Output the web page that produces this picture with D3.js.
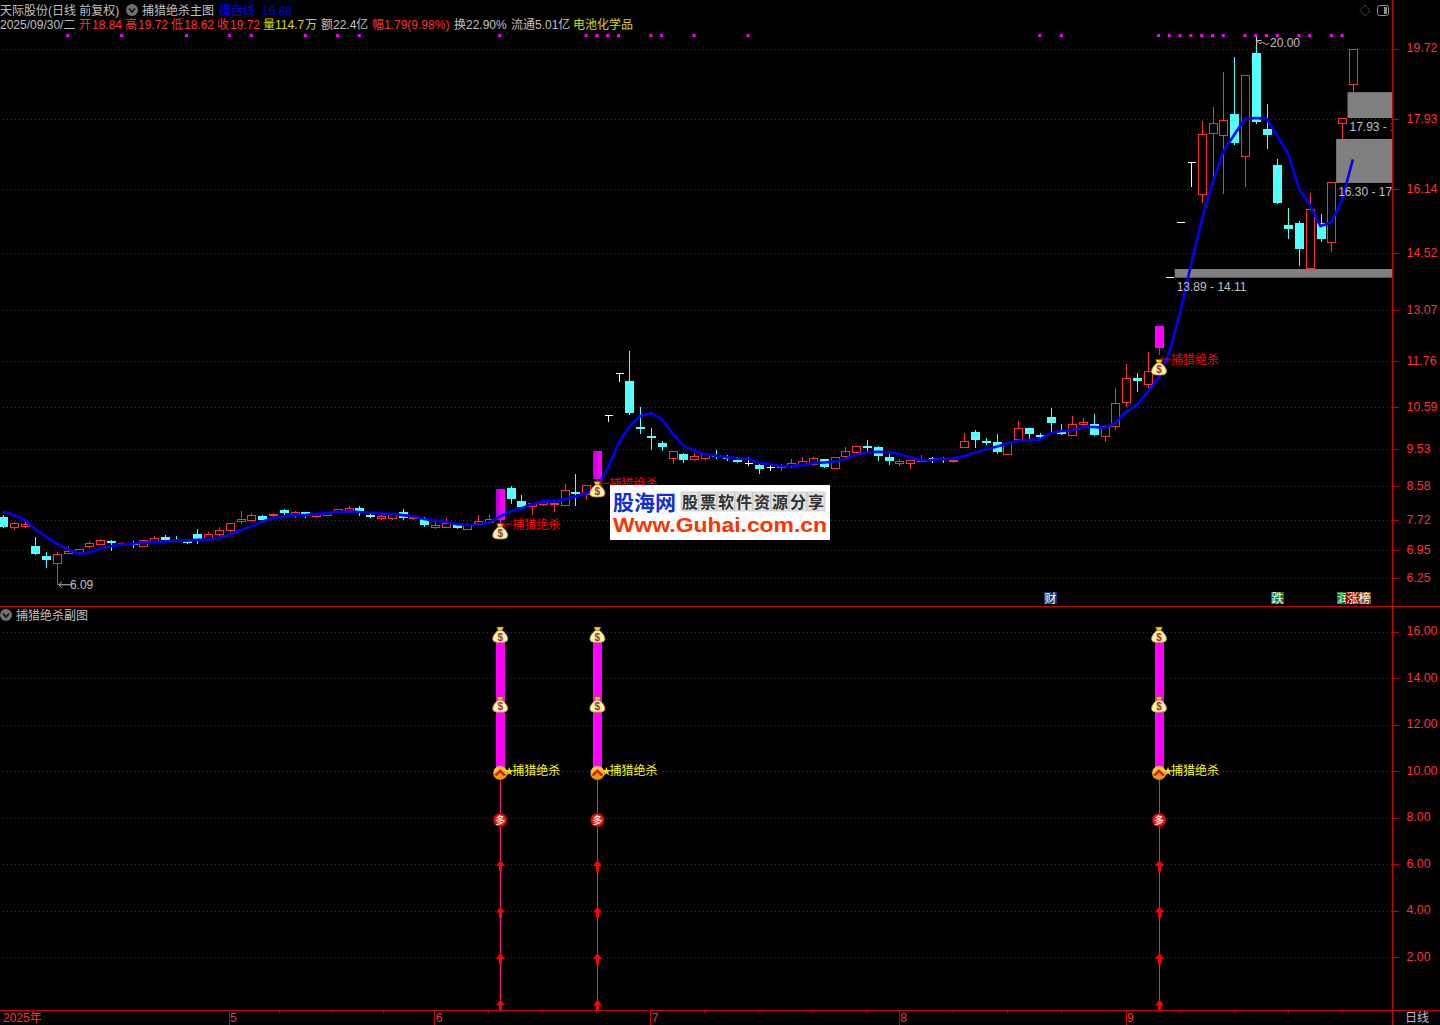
<!DOCTYPE html>
<html><head><meta charset="utf-8">
<script src="https://cdnjs.cloudflare.com/ajax/libs/d3/7.8.5/d3.min.js"></script>
<style>
html,body{margin:0;padding:0;background:#000;overflow:hidden}
svg{display:block}
text{font-family:"Liberation Sans","Noto Sans CJK SC",sans-serif;font-size:12px}
</style></head><body><svg id="c" width="1440" height="1025"></svg>
<script>
const opens=[7.80,7.53,7.56,7.07,6.81,6.61,6.90,6.90,7.05,7.13,
7.18,7.12,7.15,7.07,7.18,7.29,7.22,7.18,7.37,7.24,
7.38,7.45,7.68,7.73,7.83,7.86,7.98,7.88,7.93,7.81,
7.85,7.93,7.99,8.03,7.84,7.76,7.76,7.93,7.76,7.75,
7.54,7.56,7.62,7.51,7.66,7.67,7.73,8.53,8.21,8.10,
8.12,8.14,8.12,8.44,8.39,8.77,10.40,11.46,11.26,10.08,
9.87,9.68,9.29,9.40,9.28,9.29,9.39,9.34,9.25,9.18,
9.12,9.07,9.07,9.10,9.13,9.15,9.28,9.07,9.34,9.46,
9.61,9.57,9.32,9.18,9.16,9.25,9.29,9.30,9.21,9.59,
9.96,9.74,9.71,9.41,9.78,10.07,9.89,10.34,9.96,9.91,
10.18,10.17,9.87,10.10,10.71,11.34,11.19,12.10,13.91,15.31,
16.82,16.01,17.56,17.51,18.05,16.97,19.60,17.67,16.76,15.23,
15.28,14.12,15.27,14.79,17.82,18.84];
const closes=[7.55,7.64,7.62,6.87,6.72,6.85,6.94,6.98,7.13,7.22,
7.13,7.13,7.10,7.21,7.27,7.22,7.21,7.16,7.25,7.36,
7.47,7.64,7.74,7.85,7.74,7.88,7.90,7.93,7.86,7.87,
7.92,8.00,8.03,7.91,7.82,7.82,7.87,7.79,7.79,7.61,
7.60,7.65,7.52,7.61,7.70,7.74,8.51,8.26,8.06,8.17,
8.20,8.17,8.50,8.38,8.61,9.48,10.40,11.46,10.45,10.07,
9.86,9.59,9.47,9.26,9.36,9.40,9.34,9.32,9.21,9.18,
9.01,9.07,9.12,9.17,9.23,9.29,9.08,9.34,9.47,9.62,
9.60,9.34,9.21,9.22,9.24,9.26,9.29,9.28,9.24,9.73,
9.76,9.68,9.46,9.68,10.06,9.91,9.86,10.20,9.94,10.18,
10.22,9.89,10.12,10.69,11.33,11.26,11.51,12.66,13.91,15.31,
16.82,17.54,17.82,17.90,17.31,19.04,17.85,17.53,15.80,15.14,
14.62,15.63,14.86,16.32,17.94,19.72];
const highs=[7.85,7.68,7.68,7.29,6.91,6.90,7.07,7.00,7.19,7.24,
7.22,7.17,7.18,7.21,7.31,7.35,7.33,7.22,7.49,7.41,
7.55,7.64,7.95,7.90,7.85,7.91,8.01,7.95,7.94,7.90,
7.93,8.01,8.08,8.08,7.90,7.86,7.91,8.01,7.84,7.79,
7.68,7.78,7.66,7.66,7.85,7.85,8.51,8.59,8.36,8.17,
8.23,8.18,8.64,8.90,8.61,9.48,10.40,11.46,12.03,10.59,
10.06,9.74,9.47,9.44,9.42,9.40,9.50,9.37,9.32,9.32,
9.15,9.12,9.15,9.27,9.34,9.34,9.28,9.34,9.57,9.62,
9.76,9.61,9.40,9.27,9.24,9.38,9.33,9.33,9.27,9.94,
10.01,9.81,9.91,9.68,10.24,10.07,9.93,10.57,10.18,10.37,
10.31,10.42,10.13,11.08,11.69,11.47,12.00,12.66,13.91,15.31,
16.82,17.88,18.22,19.12,19.50,19.04,20.00,18.31,16.90,15.66,
15.33,16.04,15.51,16.32,17.94,19.72];
const lows=[7.55,7.50,7.55,6.87,6.54,6.09,6.88,6.88,7.03,7.12,
6.95,7.10,7.04,7.06,7.18,7.18,7.20,7.15,7.15,7.24,
7.33,7.45,7.66,7.72,7.73,7.81,7.89,7.81,7.81,7.79,
7.84,7.92,7.98,7.85,7.79,7.74,7.74,7.76,7.74,7.58,
7.53,7.55,7.51,7.50,7.64,7.65,7.65,8.17,8.06,7.88,
8.11,7.96,8.11,8.11,8.27,8.66,10.25,11.27,10.42,9.95,
9.54,9.51,9.18,9.21,9.25,9.28,9.30,9.24,9.19,9.12,
8.92,9.01,9.01,9.07,9.12,9.13,9.08,9.07,9.34,9.40,
9.49,9.24,9.15,9.13,9.05,9.25,9.20,9.20,9.20,9.59,
9.59,9.66,9.43,9.41,9.76,9.78,9.80,9.97,9.91,9.90,
10.12,9.89,9.74,10.04,10.63,11.01,10.99,11.95,13.91,15.31,
16.23,15.82,16.41,16.05,17.29,16.23,17.83,17.20,15.80,14.90,
14.21,14.12,14.83,14.57,17.45,18.62];
const maLine=[7.94,7.85,7.73,7.49,7.30,7.12,6.98,6.87,6.90,7.00,
7.06,7.10,7.12,7.16,7.17,7.18,7.20,7.20,7.22,7.23,
7.26,7.35,7.46,7.57,7.68,7.77,7.81,7.85,7.85,7.88,
7.90,7.93,7.94,7.93,7.91,7.89,7.88,7.85,7.82,7.75,
7.71,7.68,7.62,7.60,7.61,7.66,7.81,7.95,8.02,8.13,
8.20,8.20,8.25,8.32,8.39,8.57,9.04,9.68,10.10,10.37,
10.45,10.29,9.93,9.61,9.49,9.40,9.36,9.32,9.29,9.28,
9.18,9.15,9.10,9.10,9.12,9.17,9.19,9.21,9.28,9.39,
9.44,9.46,9.45,9.40,9.32,9.25,9.26,9.28,9.29,9.35,
9.44,9.52,9.59,9.67,9.74,9.76,9.77,9.94,9.99,10.00,
10.09,10.09,10.07,10.20,10.48,10.65,10.99,11.33,12.00,13.00,
14.21,15.36,16.29,17.10,17.52,17.93,17.95,17.93,17.50,17.05,
16.16,15.74,15.20,15.30,15.87,16.90];

const signalIdx=[46,55,107];
const mainBagY=[7.42,8.49,11.59];
const mainLabelY=[7.62,8.66,11.82];
const topDots=[6,11,17,21,23,28,31,33,46,54,55,56,57,60,61,64,69,96,98,107,108,109,110,111,112,113,115,116,117,118,120,121,123,124];
const mainTicks=[19.72,17.93,16.14,14.52,13.07,11.76,10.59,9.53,8.58,7.72,6.95,6.25];
const subTicks=[16,14,12,10,8,6,4,2];
const subBarTop=16, subBarBase=10, subBags=[16,13], subBadge=10, subDuo=8, subArrows=[6,4,2,0], subStemBase=0;
const zones=[{lo:13.89,hi:14.11,from:108.5,lbl:"13.89 - 14.11"},{lo:16.30,hi:17.42,from:123.45,lbl:"16.30 - 17"},{lo:17.95,hi:18.61,from:124.5,lbl:"17.93 - 1"}];
const monthLabels=["5","6","7","8","9"];
const monthIdx=[20.9,39.95,59.95,82.95,103.95];
const minorIdx=[25.65,30.45,35.25,45.05,50.05,55.05,65.05,70.05,75.05,80.05,88.05,93.05,98.05,109.05,114.05,119.05,124.05];

const RED="#ff3232",PURE="#ff0000",CYAN="#54ffff",GRAY="#c0c0c0",LINE="#d00000",GRID="#a00000",YEL="#d8d800";
const svg=d3.select("#c");
const defs=svg.append("defs");
const grad=defs.append("linearGradient").attr("id","mg");
grad.append("stop").attr("offset","0").attr("stop-color","#b000d8");
grad.append("stop").attr("offset","0.6").attr("stop-color","#f000f0");
grad.append("stop").attr("offset","1").attr("stop-color","#ff00ff");
const g2=defs.append("linearGradient").attr("id","bd").attr("x1",0).attr("x2",0).attr("y1",0).attr("y2",1);
g2.append("stop").attr("offset","0").attr("stop-color","#ffe040");
g2.append("stop").attr("offset","1").attr("stop-color","#f08010");
const r2=defs.append("radialGradient").attr("id","rd");
r2.append("stop").attr("offset","0.45").attr("stop-color","#ff3020");
r2.append("stop").attr("offset","1").attr("stop-color","#c00000");
defs.append("clipPath").attr("id","plot").append("rect").attr("x",0).attr("y",0).attr("width",1392).attr("height",607);
svg.append("rect").attr("width",1440).attr("height",1025).attr("fill","#000");

const x=d3.scaleLinear().domain([0,125]).range([2.9,1352.9]);
const y=d3.scaleLinear().domain([6.25,19.72]).range([578,48.5]);
const ys=d3.scaleLinear().domain([0,16]).range([1003.5,631.5]);
const px=v=>Math.round(v)+0.5;

/* grid */
function grid(scale,vals){
  const g=svg.append("g").attr("transform","translate(3,0)")
    .call(d3.axisRight(scale).tickValues(vals).tickSize(1389).tickFormat(""));
  g.select(".domain").remove();
  g.selectAll("line").attr("stroke",GRID).attr("stroke-dasharray","1 3").attr("shape-rendering","crispEdges");
}
grid(y,mainTicks);grid(ys,subTicks);

const plot=svg.append("g").attr("clip-path","url(#plot)");
/* zones */
plot.selectAll("rect.z").data(zones).join("rect").attr("class","z")
  .attr("x",d=>x(d.from)).attr("width",d=>1392-x(d.from))
  .attr("y",d=>y(d.hi)).attr("height",d=>y(d.lo)-y(d.hi)).attr("fill","#808080");

/* candles */
const idx=d3.range(opens.length);
const kind=i=>signalIdx.includes(i)?"m":opens[i]===closes[i]?"w":closes[i]>opens[i]?"r":"c";
const col={m:"#f000f0",w:"#ffffff",r:RED,c:CYAN};
const candles=plot.append("g").attr("shape-rendering","crispEdges");
candles.selectAll("line").data(idx).join("line")
  .attr("x1",i=>px(x(i))).attr("x2",i=>px(x(i)))
  .attr("y1",i=>Math.round(y(highs[i]))).attr("y2",i=>Math.round(y(lows[i]))+1)
  .attr("stroke",i=>col[kind(i)]);
candles.selectAll("rect").data(idx.filter(i=>kind(i)!=="w")).join("rect")
  .attr("x",i=>{const k=kind(i);return k==="r"?px(x(i))-4:px(x(i))-4.5;})
  .attr("width",i=>kind(i)==="r"?8:9)
  .attr("y",i=>{const t=y(Math.max(opens[i],closes[i]));return kind(i)==="r"?px(t):Math.round(t);})
  .attr("height",i=>{const h=Math.abs(y(opens[i])-y(closes[i]));return Math.max(kind(i)==="r"?1:2,Math.round(h));})
  .attr("fill",i=>{const k=kind(i);return k==="r"?"#000":k==="m"?(i===107?"#ff00ff":"url(#mg)"):CYAN;})
  .attr("stroke",i=>kind(i)==="r"?RED:"none");
candles.selectAll("line.d").data(idx.filter(i=>kind(i)==="w")).join("line").attr("class","d")
  .attr("x1",i=>px(x(i))-4).attr("x2",i=>px(x(i))+4)
  .attr("y1",i=>px(y(opens[i]))).attr("y2",i=>px(y(opens[i]))).attr("stroke","#fff");

/* operating line */
plot.append("path").datum(maLine).attr("fill","none").attr("stroke","#0000ff").attr("stroke-width",2.6)
  .attr("d",d3.line().x((d,i)=>x(i)).y(d=>y(d)));

/* zone labels */
plot.selectAll("text.z").data(zones).join("text").attr("class","z")
  .attr("x",d=>x(d.from)+2).attr("y",d=>y(d.lo)+13).attr("fill",GRAY).text(d=>d.lbl);

/* top magenta dots */
svg.selectAll("rect.t").data(topDots).join("rect").attr("class","t")
  .attr("x",i=>x(i)-1.5).attr("y",34).attr("width",3).attr("height",3).attr("fill","#ff00ff");

/* icons */
function bag(sel){
  sel.append("path").attr("d","M-3.5,-8.5L3.5,-8.5L2,-5L-2,-5Z").attr("fill","#f0d020").attr("stroke","#704010").attr("stroke-width",.5);
  sel.append("path").attr("d","M-2,-5C-6,-2 -7.5,1 -7.5,3.5C-7.5,6.5 -4,7 0,7C4,7 7.5,6.5 7.5,3.5C7.5,1 6,-2 2,-5Z").attr("fill","#fff0a8").attr("stroke","#b88a20").attr("stroke-width",.8);
  sel.append("text").attr("text-anchor","middle").attr("y",5).attr("fill","#8a3a3a").attr("font-weight","bold").style("font-size","10px").text("$");
}
/* main chart signals */
signalIdx.forEach((s,k)=>{
  const cx=x(s)+0.5;
  const g=plot.append("g").attr("transform",`translate(${cx},${y(mainBagY[k])})`);bag(g);
  const ly=y(mainLabelY[k]);
  plot.append("path").attr("d",`M${cx+2},${ly}h10M${cx+5},${ly-3}l-3,3l3,3`).attr("fill","none").attr("stroke",PURE);
  plot.append("text").attr("x",cx+12).attr("y",ly+4.5).attr("fill",PURE).text("捕猎绝杀");
});

/* extreme annotations */
svg.append("path").attr("d",`M${x(5)+2},${y(lows[5])+0.5}h12M${x(5)+5},${y(lows[5])-2.5}l-3,3l3,3`).attr("fill","none").attr("stroke",GRAY);
svg.append("text").attr("x",x(5)+13).attr("y",y(lows[5])+5).attr("fill",GRAY).text(d3.format(".2f")(lows[5]));
svg.append("path").attr("d",`M${x(116)+1},${y(20)+8}V${y(20)+3}h5M${x(116)+1},${y(20)+3}l3,3q3,-2 5,0t4,0`).attr("fill","none").attr("stroke",GRAY);
svg.append("text").attr("x",1270).attr("y",47).attr("fill",GRAY).text("20.00");

/* logo */
const lg=svg.append("g");
lg.append("rect").attr("x",610).attr("y",485).attr("width",220).attr("height",55).attr("fill","#fff");
lg.append("text").attr("x",613).attr("y",510).attr("fill","#1030d0").attr("font-weight","bold").style("font-size","21px").text("股海网");
Array.from("股票软件资源分享").forEach((ch,i)=>{
  lg.append("rect").attr("x",681+i*18).attr("y",492).attr("width",18).attr("height",19).attr("fill","#e2e2e2").attr("stroke","#b0b0b0").attr("stroke-width",.5);
  lg.append("text").attr("x",690+i*18).attr("y",507.5).attr("text-anchor","middle").attr("fill","#303030").attr("font-weight","bold").style("font-size","16px").text(ch);
});
lg.append("text").attr("x",613).attr("y",532).attr("fill","#ff3300").attr("font-weight","bold").attr("textLength",214).attr("lengthAdjust","spacingAndGlyphs").style("font-size","20px").text("Www.Guhai.com.cn");

/* sub chart */
const sub=svg.append("g");
signalIdx.forEach(s=>{
  const cx=x(s)+0.5, lx=px(cx);
  sub.append("line").attr("x1",lx).attr("x2",lx).attr("y1",ys(subBadge)).attr("y2",ys(subStemBase)+6.5).attr("stroke","#ff1480").attr("shape-rendering","crispEdges");
  sub.append("rect").attr("x",Math.round(cx)-4).attr("width",9).attr("y",ys(subBarTop)).attr("height",ys(subBarBase)-ys(subBarTop)).attr("fill","#ff00ff");
  subBags.forEach(v=>{const g=sub.append("g").attr("transform",`translate(${cx},${ys(v)+4})`);bag(g);});
  const b=sub.append("g").attr("transform",`translate(${cx},${ys(subBadge)+2})`);
  b.append("circle").attr("r",7).attr("fill","url(#bd)");
  b.append("path").attr("d","M-6,2L0,-4L6,2L3.5,3L0,-0.5L-3.5,3Z").attr("fill","#d02000");
  sub.append("path").attr("transform",`translate(${cx+9},${ys(subBadge)+0.5})`)
    .attr("d",d3.symbol(d3.symbolStar,26)()).attr("fill","#ffd800");
  sub.append("text").attr("x",cx+12).attr("y",ys(subBadge)+4).attr("fill","#ffff00").text("捕猎绝杀");
  const d=sub.append("g").attr("transform",`translate(${cx},${ys(subDuo)+2.5})`);
  d.append("circle").attr("r",7).attr("fill","url(#rd)");
  d.append("text").attr("text-anchor","middle").attr("y",4).attr("fill","#fff").style("font-size","10px").text("多");
  subArrows.forEach(v=>{
    sub.append("path").attr("transform",`translate(${lx},${ys(v)})`)
      .attr("d","M0,-4L4.5,2H1.5V7.5H-1.5V2H-4.5Z").attr("fill","#ff0000");
  });
});

/* frame and axes */
const fr=svg.append("g").attr("stroke",LINE).attr("shape-rendering","crispEdges");
fr.append("line").attr("x1",1392.5).attr("x2",1392.5).attr("y1",0).attr("y2",1025);
fr.append("line").attr("x1",0).attr("x2",1440).attr("y1",606.5).attr("y2",606.5);
fr.append("line").attr("x1",0).attr("x2",1440).attr("y1",1010.5).attr("y2",1010.5);

function axisR(scale,vals){
  const g=svg.append("g").attr("transform","translate(1392.5,0)")
    .call(d3.axisRight(scale).tickValues(vals).tickSize(6).tickPadding(8).tickFormat(d3.format(".2f")));
  g.select(".domain").remove();
  g.selectAll("line").attr("stroke",LINE).attr("shape-rendering","crispEdges");
  g.selectAll("text").attr("fill",RED).attr("dy","0.27em").style("font-size","12.4px").style("font-family",'"Liberation Sans",sans-serif');
}
axisR(y,mainTicks);axisR(ys,subTicks);

const minor=svg.append("g").attr("transform","translate(-1,1010)")
  .call(d3.axisBottom(x).tickValues(minorIdx).tickSize(3).tickFormat(""));
minor.select(".domain").remove();minor.selectAll("line").attr("stroke",LINE).attr("shape-rendering","crispEdges");
const major=svg.append("g").attr("transform","translate(0,1010)")
  .call(d3.axisBottom(x).tickValues(monthIdx).tickSize(15).tickPadding(0).tickFormat((d,i)=>monthLabels[i]));
major.select(".domain").remove();
major.selectAll("line").attr("stroke",LINE).attr("shape-rendering","crispEdges");
major.selectAll("text").attr("fill",RED).attr("text-anchor","start").attr("x",1).attr("y",12).attr("dy",0).style("font-size","12px").style("font-family",'"Liberation Sans",sans-serif');
svg.append("text").attr("x",3).attr("y",1022).attr("fill",RED).text("2025年");
svg.append("text").attr("x",1405).attr("y",1022).attr("fill",GRAY).text("日线");

/* header pieces */
const header=[
 [0,15,"天际股份(日线 前复权)",GRAY],[142,15,"捕猎绝杀主图",GRAY],[219,15,"操盘线","#0000ff"],[262,15,"16.88","#0000d8"],
 [0,29,"2025/09/30/二",GRAY],[79,29,"开",RED],[92,29,"18.84",RED],[125,29,"高",RED],[138,29,"19.72",RED],[171,29,"低",RED],[184,29,"18.62",RED],
 [217,29,"收",RED],[230,29,"19.72",RED],[263,29,"量",YEL],[275,29,"114.7",YEL],[305,29,"万",YEL],[321,29,"额",GRAY],[333,29,"22.4亿",GRAY],
 [372,29,"幅",RED],[384,29,"1.79(9.98%)",RED],[454,29,"换22.90%",GRAY],[511,29,"流通5.01亿",GRAY],[573,29,"电池化学品",YEL],
 [16,620,"捕猎绝杀副图",GRAY]];
svg.selectAll("text.h").data(header).join("text").attr("class","h")
  .attr("x",d=>d[0]).attr("y",d=>d[1]).attr("fill",d=>d[3]).text(d=>d[2]);

function chev(cx,cy){
  svg.append("circle").attr("cx",cx).attr("cy",cy).attr("r",6).attr("fill","#707070");
  svg.append("path").attr("d",`M${cx-3},${cy-1.5}L${cx},${cy+2}L${cx+3},${cy-1.5}`).attr("fill","none").attr("stroke","#111").attr("stroke-width",1.6);
}
chev(132,10);chev(6,615);
svg.append("path").attr("d","M1365,5L1370,10.5L1365,16L1360,10.5Z").attr("fill","none").attr("stroke","#808080").attr("stroke-dasharray","1 1");
svg.append("rect").attr("x",1377.5).attr("y",5.5).attr("width",11).attr("height",10).attr("rx",2).attr("fill","none").attr("stroke","#909090");
svg.append("rect").attr("x",1384).attr("y",7).attr("width",3).attr("height",7).attr("fill","#909090");

/* bottom tags */
const tags=[[1044,13,"财","#0c3a78"],[1271,13,"跌","#0a7a10"],[1337,12,"润","#0a7a10"],[1346,13,"涨","#7a0808"],[1358,13,"榜","#8a4a00"]];
tags.forEach(t=>{
  svg.append("rect").attr("x",t[0]).attr("y",592).attr("width",t[1]).attr("height",12).attr("fill",t[3]);
  svg.append("text").attr("x",t[0]+t[1]/2).attr("y",602.5).attr("text-anchor","middle").attr("fill","#fff").text(t[2]);
});
</script></body></html>
